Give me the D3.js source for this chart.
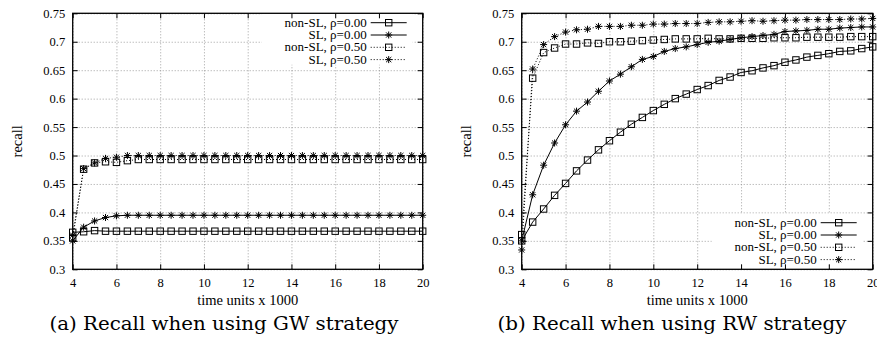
<!DOCTYPE html>
<html>
<head>
<meta charset="utf-8">
<script src="https://cdn.jsdelivr.net/npm/d3@7"></script>
<style>
  body { margin: 0; background: #fff; }
  svg { display: block; }
  text { font-family: 'Liberation Serif', 'Times New Roman', serif; fill: #000; }
  .tick text { font-size: 12.5px; }
</style>
</head>
<body>
<script>
// x values (time units x 1000)
const timeUnits = [4, 4.5, 5, 5.5, 6, 6.5, 7, 7.5, 8, 8.5, 9, 9.5, 10, 10.5, 11, 11.5,
  12, 12.5, 13, 13.5, 14, 14.5, 15, 15.5, 16, 16.5, 17, 17.5, 18, 18.5, 19, 19.5, 20]
const xTicks = [4, 6, 8, 10, 12, 14, 16, 18, 20]
const yTicks = [0.3, 0.35, 0.4, 0.45, 0.5, 0.55, 0.6, 0.65, 0.7, 0.75]
const seriesNames = ['non-SL, ρ=0.00', 'SL, ρ=0.00', 'non-SL, ρ=0.50', 'SL, ρ=0.50']
const captions = ['(a) Recall when using GW strategy', '(b) Recall when using RW strategy']

// (a) GW strategy
const gwNonSL00 = [0.365, 0.366, 0.368, 0.367, 0.367, 0.367, 0.367, 0.367, 0.367, 0.367, 0.367,
  0.367, 0.367, 0.367, 0.367, 0.367, 0.367, 0.367, 0.367, 0.367, 0.367, 0.367, 0.367,
  0.367, 0.367, 0.367, 0.367, 0.367, 0.367, 0.367, 0.367, 0.367, 0.367]
const gwSL00 = [0.350, 0.374, 0.385, 0.391, 0.394, 0.395, 0.395, 0.395, 0.395, 0.395, 0.395,
  0.395, 0.395, 0.395, 0.395, 0.395, 0.395, 0.395, 0.395, 0.395, 0.395, 0.395, 0.395,
  0.395, 0.395, 0.395, 0.395, 0.395, 0.395, 0.395, 0.395, 0.395, 0.395]
const gwNonSL50 = [0.355, 0.476, 0.487, 0.489, 0.488, 0.491, 0.493, 0.493, 0.493, 0.493, 0.493,
  0.493, 0.493, 0.493, 0.493, 0.493, 0.493, 0.493, 0.493, 0.493, 0.493, 0.493, 0.493,
  0.493, 0.493, 0.493, 0.493, 0.493, 0.493, 0.493, 0.493, 0.493, 0.493]
const gwSL50 = [0.360, 0.477, 0.487, 0.495, 0.497, 0.500, 0.500, 0.500, 0.500, 0.500, 0.500,
  0.500, 0.500, 0.500, 0.500, 0.500, 0.500, 0.500, 0.500, 0.500, 0.500, 0.500, 0.500,
  0.500, 0.500, 0.500, 0.500, 0.500, 0.500, 0.500, 0.500, 0.500, 0.500]

// (b) RW strategy
const rwNonSL00 = [0.350, 0.383, 0.406, 0.430, 0.451, 0.473, 0.492, 0.510, 0.526, 0.541, 0.555,
  0.567, 0.579, 0.590, 0.600, 0.608, 0.616, 0.623, 0.632, 0.638, 0.646, 0.649, 0.654,
  0.658, 0.664, 0.668, 0.673, 0.676, 0.679, 0.683, 0.684, 0.688, 0.691]
const rwSL00 = [0.350, 0.431, 0.483, 0.522, 0.554, 0.578, 0.594, 0.613, 0.631, 0.643, 0.656,
  0.669, 0.674, 0.683, 0.688, 0.691, 0.695, 0.699, 0.701, 0.704, 0.707, 0.709, 0.711,
  0.713, 0.718, 0.719, 0.720, 0.722, 0.722, 0.724, 0.725, 0.726, 0.726]
const rwNonSL50 = [0.361, 0.636, 0.681, 0.689, 0.696, 0.696, 0.698, 0.697, 0.700, 0.700, 0.701,
  0.702, 0.703, 0.704, 0.705, 0.705, 0.705, 0.706, 0.705, 0.705, 0.706, 0.706, 0.706,
  0.707, 0.707, 0.707, 0.708, 0.708, 0.708, 0.708, 0.709, 0.709, 0.709]
const rwSL50 = [0.334, 0.652, 0.695, 0.709, 0.717, 0.721, 0.722, 0.727, 0.727, 0.727, 0.729,
  0.729, 0.731, 0.731, 0.732, 0.732, 0.732, 0.734, 0.735, 0.735, 0.736, 0.737, 0.736,
  0.737, 0.738, 0.738, 0.739, 0.739, 0.739, 0.739, 0.740, 0.740, 0.741]

const width = 877
const height = 341
const plotTop = 13.3
const plotBottom = 269.3

const svg = d3.select('body').append('svg')
  .attr('width', width)
  .attr('height', height)

// line style + marker per series (same order as seriesNames)
const styles = [
  { dash: null, marker: 'square' },
  { dash: null, marker: 'star' },
  { dash: '1,2', marker: 'square' },
  { dash: '1,2', marker: 'star' }
]

const drawMarker = (sel, kind) => {
  if (kind === 'square') {
    sel.append('rect')
      .attr('x', -3.2).attr('y', -3.2)
      .attr('width', 6.4).attr('height', 6.4)
      .attr('fill', 'none')
      .attr('stroke', '#000')
      .attr('stroke-width', 1)
  } else {
    sel.append('path')
      .attr('d', 'M-3.5,0H3.5M0,-3.5V3.5M-2.6,-2.6L2.6,2.6M-2.6,2.6L2.6,-2.6')
      .attr('fill', 'none')
      .attr('stroke', '#000')
      .attr('stroke-width', 1)
  }
}

function drawPanel (cfg) {
  const x = d3.scaleLinear().domain([4, 20]).range([cfg.left, cfg.right])
  const y = d3.scaleLinear().domain([0.3, 0.75]).range([plotBottom, plotTop])
  const h = plotBottom - plotTop
  const w = cfg.right - cfg.left
  const g = svg.append('g')

  // grid
  g.append('g')
    .attr('transform', `translate(0,${plotBottom})`)
    .call(d3.axisBottom(x).tickValues(xTicks).tickSize(-h).tickFormat(''))
    .call(a => a.select('.domain').remove())
    .selectAll('line')
    .attr('stroke', '#8a8a8a').attr('stroke-width', 0.8).attr('stroke-dasharray', '1,2')
  g.append('g')
    .attr('transform', `translate(${cfg.left},0)`)
    .call(d3.axisLeft(y).tickValues(yTicks).tickSize(-w).tickFormat(''))
    .call(a => a.select('.domain').remove())
    .selectAll('line')
    .attr('stroke', '#8a8a8a').attr('stroke-width', 0.8).attr('stroke-dasharray', '1,2')

  // opaque key box
  const legendRight = cfg.right - 16
  const sampleStart = cfg.right - 52
  const textRight = cfg.right - 56
  g.append('rect')
    .attr('x', cfg.right - 161).attr('y', cfg.legendTop - 9)
    .attr('width', 151).attr('height', 51)
    .attr('fill', '#fff')

  // series
  const line = d3.line()
    .x((d, i) => x(timeUnits[i]))
    .y(d => y(d))

  cfg.series.forEach((vals, k) => {
    g.append('path')
      .datum(vals)
      .attr('d', line)
      .attr('fill', 'none')
      .attr('stroke', '#000')
      .attr('stroke-width', 1)
      .attr('stroke-dasharray', styles[k].dash)
    g.append('g')
      .selectAll('g')
      .data(vals)
      .join('g')
      .attr('transform', (d, i) => `translate(${x(timeUnits[i])},${y(d)})`)
      .each(function () { drawMarker(d3.select(this), styles[k].marker) })
  })

  // key
  seriesNames.forEach((name, k) => {
    const ry = cfg.legendTop + k * 12.3
    g.append('text')
      .attr('x', textRight).attr('y', ry + 4)
      .attr('text-anchor', 'end')
      .attr('font-size', 13)
      .text(name)
    g.append('line')
      .attr('x1', sampleStart).attr('x2', legendRight)
      .attr('y1', ry).attr('y2', ry)
      .attr('stroke', '#000')
      .attr('stroke-width', 1)
      .attr('stroke-dasharray', styles[k].dash)
    drawMarker(g.append('g').attr('transform', `translate(${(sampleStart + legendRight) / 2},${ry})`), styles[k].marker)
  })

  // inward ticks on all four sides
  g.append('g').attr('transform', `translate(0,${plotBottom})`)
    .call(d3.axisBottom(x).tickValues(xTicks).tickSize(-5).tickPadding(8.5).tickFormat(d => d))
  g.append('g').attr('transform', `translate(0,${plotTop})`)
    .call(d3.axisTop(x).tickValues(xTicks).tickSize(-5).tickFormat(''))
  g.append('g').attr('transform', `translate(${cfg.left},0)`)
    .call(d3.axisLeft(y).tickValues(yTicks).tickSize(-5).tickPadding(7.5).tickFormat(d => String(d)))
  g.append('g').attr('transform', `translate(${cfg.right},0)`)
    .call(d3.axisRight(y).tickValues(yTicks).tickSize(-5).tickFormat(''))
  g.selectAll('.domain').remove()

  // border
  g.append('rect')
    .attr('x', cfg.left).attr('y', plotTop)
    .attr('width', w).attr('height', h)
    .attr('fill', 'none')
    .attr('stroke', '#000')
    .attr('stroke-width', 1.3)

  // axis titles
  g.append('text')
    .attr('x', (cfg.left + cfg.right) / 2).attr('y', 305)
    .attr('text-anchor', 'middle')
    .attr('font-size', 14.5)
    .text('time units x 1000')
  g.append('text')
    .attr('transform', `translate(${cfg.left - 51},${(plotTop + plotBottom) / 2}) rotate(-90)`)
    .attr('text-anchor', 'middle')
    .attr('font-size', 14.5)
    .text('recall')

  // caption
  g.append('text')
    .attr('x', cfg.captionX).attr('y', 330)
    .attr('text-anchor', 'middle')
    .style('font-family', "'DejaVu Serif', serif")
    .attr('font-size', 19)
    .attr('textLength', 349)
    .attr('lengthAdjust', 'spacingAndGlyphs')
    .attr('fill', '#222')
    .text(cfg.caption)
}

drawPanel({
  left: 72.7,
  right: 422.7,
  series: [gwNonSL00, gwSL00, gwNonSL50, gwSL50],
  legendTop: 22.7,
  caption: captions[0],
  captionX: 224
})

drawPanel({
  left: 521.7,
  right: 872.7,
  series: [rwNonSL00, rwSL00, rwNonSL50, rwSL50],
  legendTop: 222.7,
  caption: captions[1],
  captionX: 672
})
</script>
</body>
</html>
